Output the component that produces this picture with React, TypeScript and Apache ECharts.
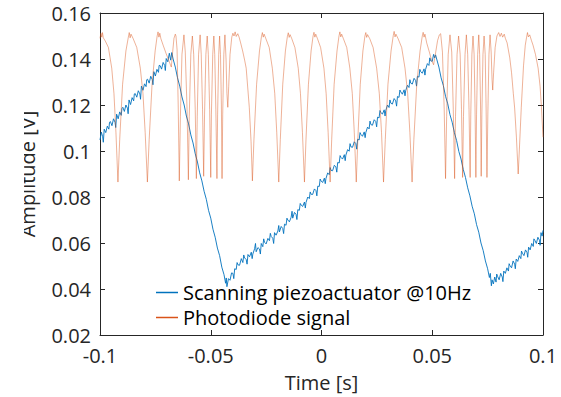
import React, { useEffect, useRef } from "react";
import * as echarts from "echarts";

// ---------- Data (time [s], amplitude [V]) ----------
const piezoRise1: number[][] = [
  [-0.1, 0.1048], [-0.0994, 0.1082], [-0.0988, 0.1062], [-0.0985, 0.1038], [-0.0981, 0.1095], [-0.0974, 0.108],
  [-0.0967, 0.1108], [-0.096, 0.1095], [-0.0957, 0.1125], [-0.0953, 0.1128], [-0.0946, 0.111], [-0.0939, 0.114],
  [-0.0932, 0.1125], [-0.0929, 0.1102], [-0.0925, 0.116], [-0.0918, 0.114], [-0.0911, 0.117], [-0.0904, 0.1155],
  [-0.0901, 0.1185], [-0.0897, 0.119], [-0.089, 0.1172], [-0.0883, 0.12], [-0.0876, 0.1186], [-0.0873, 0.1162],
  [-0.0869, 0.1222], [-0.0862, 0.1202], [-0.0855, 0.1232], [-0.0848, 0.1218], [-0.0845, 0.1248], [-0.0841, 0.125],
  [-0.0834, 0.1234], [-0.0827, 0.1262], [-0.082, 0.1248], [-0.0817, 0.1225], [-0.0813, 0.1282], [-0.0806, 0.1264],
  [-0.0799, 0.1292], [-0.0792, 0.128], [-0.0789, 0.131], [-0.0785, 0.1312], [-0.0778, 0.1295], [-0.0771, 0.1325],
  [-0.0764, 0.131], [-0.0761, 0.1288], [-0.0757, 0.1345], [-0.075, 0.1326], [-0.0743, 0.1355], [-0.0736, 0.1342],
  [-0.0733, 0.1372], [-0.0729, 0.1372], [-0.0722, 0.1356], [-0.0715, 0.1385], [-0.0708, 0.1372], [-0.0705, 0.135],
  [-0.0701, 0.1402], [-0.0694, 0.1388], [-0.0687, 0.1425], [-0.0681, 0.1395], [-0.0676, 0.1428],
];
const piezoFall1: number[][] = [
  [-0.067, 0.14], [-0.066, 0.1365], [-0.065, 0.1318], [-0.064, 0.1282], [-0.063, 0.1235],
  [-0.062, 0.12], [-0.061, 0.1152], [-0.06, 0.1118], [-0.059, 0.107], [-0.058, 0.1035],
  [-0.057, 0.0988], [-0.056, 0.0952], [-0.055, 0.0905], [-0.054, 0.087], [-0.053, 0.0825],
  [-0.052, 0.079], [-0.051, 0.0742], [-0.05, 0.0708], [-0.049, 0.066], [-0.048, 0.0625],
  [-0.047, 0.0578], [-0.046, 0.0545], [-0.045, 0.0495], [-0.044, 0.0462], [-0.0433, 0.0425],
  [-0.043, 0.0448], [-0.0427, 0.041],
];
const piezoRise2: number[][] = [
  [-0.042, 0.0445], [-0.0413, 0.0438], [-0.0406, 0.047], [-0.04, 0.0468], [-0.0396, 0.0445], [-0.0392, 0.0488],
  [-0.0385, 0.0485], [-0.0381, 0.0515], [-0.0377, 0.0505], [-0.037, 0.0503], [-0.0362, 0.0532],
  [-0.0355, 0.0515], [-0.0351, 0.0548], [-0.0347, 0.0535], [-0.034, 0.0528], [-0.0336, 0.0508], [-0.0332, 0.055],
  [-0.0325, 0.054], [-0.0317, 0.056], [-0.0313, 0.0532], [-0.031, 0.0552], [-0.0302, 0.0575], [-0.0298, 0.0598],
  [-0.0295, 0.0562], [-0.0287, 0.058], [-0.028, 0.0574], [-0.0276, 0.0552], [-0.0272, 0.0598],
  [-0.0265, 0.0584], [-0.0261, 0.0618], [-0.0257, 0.0603], [-0.025, 0.0596], [-0.0242, 0.062],
  [-0.0235, 0.061], [-0.0231, 0.0642], [-0.0227, 0.0628], [-0.022, 0.0621], [-0.0216, 0.0598], [-0.0212, 0.0645],
  [-0.0205, 0.0634], [-0.0197, 0.0652], [-0.0193, 0.0676], [-0.019, 0.0648], [-0.0182, 0.0672],
  [-0.0175, 0.0663], [-0.0171, 0.0641], [-0.0167, 0.0682], [-0.016, 0.0677], [-0.0156, 0.0708], [-0.0152, 0.07],
  [-0.0145, 0.0692], [-0.0137, 0.0712], [-0.0133, 0.0738], [-0.013, 0.0708], [-0.0122, 0.0733],
  [-0.0115, 0.0725], [-0.0111, 0.0702], [-0.0107, 0.0745], [-0.01, 0.0742], [-0.0096, 0.0772], [-0.0092, 0.0765],
  [-0.0085, 0.0759], [-0.0077, 0.0778], [-0.0073, 0.0752], [-0.007, 0.0776], [-0.0062, 0.08],
  [-0.0055, 0.0793], [-0.0051, 0.0822], [-0.0047, 0.0812], [-0.004, 0.0811], [-0.0032, 0.0835],
  [-0.0025, 0.0828], [-0.0021, 0.0805], [-0.0017, 0.0847], [-0.001, 0.0846], [-0.0006, 0.0878], [-0.0002, 0.087],
  [0.0005, 0.0863], [0.0013, 0.0882], [0.0017, 0.0858], [0.002, 0.088], [0.0028, 0.0905],
  [0.0035, 0.0897], [0.0039, 0.0928], [0.0043, 0.0916], [0.005, 0.0914], [0.0058, 0.0938],
  [0.0065, 0.0931], [0.0069, 0.0908], [0.0073, 0.095], [0.008, 0.0948], [0.0084, 0.098], [0.0088, 0.0972],
  [0.0095, 0.0965], [0.0103, 0.0984], [0.0107, 0.0958], [0.011, 0.0982], [0.0118, 0.1006],
  [0.0125, 0.0999], [0.0129, 0.1032], [0.0133, 0.1018], [0.014, 0.1016], [0.0148, 0.104],
  [0.0155, 0.1032], [0.0159, 0.1008], [0.0163, 0.1051], [0.017, 0.1048], [0.0174, 0.108], [0.0178, 0.1072],
  [0.0185, 0.1064], [0.0193, 0.1083], [0.0197, 0.1058], [0.02, 0.108], [0.0208, 0.1104],
  [0.0215, 0.1096], [0.0219, 0.113], [0.0223, 0.1115], [0.023, 0.1112], [0.0238, 0.1136],
  [0.0245, 0.1128], [0.0249, 0.1105], [0.0253, 0.1147], [0.026, 0.1144], [0.0264, 0.1176], [0.0268, 0.1168],
  [0.0275, 0.116], [0.0283, 0.1179], [0.0287, 0.1152], [0.029, 0.1176], [0.0298, 0.12],
  [0.0305, 0.1189], [0.0309, 0.1222], [0.0313, 0.1208], [0.032, 0.1204], [0.0328, 0.1228],
  [0.0335, 0.1218], [0.0339, 0.1195], [0.0343, 0.1237], [0.035, 0.1233], [0.0354, 0.1265], [0.0358, 0.1257],
  [0.0365, 0.1247], [0.0373, 0.1266], [0.0377, 0.124], [0.038, 0.1262], [0.0388, 0.1286],
  [0.0395, 0.1276], [0.0399, 0.131], [0.0403, 0.1295], [0.041, 0.1291], [0.0418, 0.1316],
  [0.0425, 0.1306], [0.0429, 0.1282], [0.0433, 0.1325], [0.044, 0.1321], [0.0444, 0.1355], [0.0448, 0.1345],
  [0.0455, 0.1338], [0.0463, 0.1357], [0.0467, 0.133], [0.047, 0.1355], [0.0478, 0.138],
  [0.0485, 0.1372], [0.0489, 0.1405], [0.0493, 0.1392], [0.05, 0.139], [0.0506, 0.142],
  [0.0511, 0.1405], [0.0515, 0.1418],
];
const piezoFall2: number[][] = [
  [0.052, 0.14], [0.053, 0.1365], [0.054, 0.1318], [0.055, 0.1285], [0.056, 0.1238],
  [0.057, 0.1205], [0.058, 0.1158], [0.059, 0.1125], [0.06, 0.108], [0.061, 0.1045],
  [0.062, 0.0998], [0.063, 0.0965], [0.064, 0.092], [0.065, 0.0885], [0.066, 0.084],
  [0.067, 0.0805], [0.068, 0.076], [0.069, 0.0727], [0.07, 0.068], [0.071, 0.0647],
  [0.072, 0.06], [0.073, 0.0567], [0.074, 0.0522], [0.075, 0.0488], [0.0758, 0.045],
  [0.0762, 0.0468], [0.0767, 0.0414],
];
const piezoRise3: number[][] = [
  [0.077, 0.044], [0.0776, 0.0422], [0.0782, 0.0452], [0.0788, 0.043], [0.0791, 0.0465], [0.0795, 0.0455],
  [0.0802, 0.044], [0.0809, 0.0468], [0.0816, 0.0452], [0.0819, 0.0432], [0.0823, 0.0478], [0.083, 0.0468],
  [0.0837, 0.0492], [0.0844, 0.0478], [0.0847, 0.051], [0.0851, 0.0502], [0.0858, 0.0492], [0.0865, 0.0522],
  [0.0872, 0.0508], [0.0875, 0.0488], [0.0879, 0.053], [0.0886, 0.052], [0.0893, 0.0545], [0.09, 0.0532],
  [0.0903, 0.0565], [0.0907, 0.0556], [0.0914, 0.0545], [0.0921, 0.057], [0.0928, 0.0558], [0.0931, 0.0538],
  [0.0935, 0.0582], [0.0942, 0.057], [0.0949, 0.0598], [0.0956, 0.0585], [0.0959, 0.0618], [0.0963, 0.0612],
  [0.097, 0.0598], [0.0977, 0.0625], [0.0984, 0.0612], [0.0987, 0.059], [0.0991, 0.0645], [0.0996, 0.063],
  [0.1, 0.0655],
];

const diodeSlowLeft: number[][] = [
  [-0.1, 0.149], [-0.0996, 0.1512], [-0.0992, 0.1495], [-0.0989, 0.1515], [-0.0985, 0.1492],
  [-0.0976, 0.1478], [-0.0962, 0.145], [-0.0947, 0.136], [-0.0937, 0.125], [-0.0928, 0.108],
  [-0.0919, 0.0865], [-0.0911, 0.105], [-0.0898, 0.129], [-0.0883, 0.1435], [-0.0872, 0.1495],
  [-0.0868, 0.1515], [-0.0864, 0.1492], [-0.086, 0.1508], [-0.085, 0.1488], [-0.0834, 0.145],
  [-0.0818, 0.136], [-0.0806, 0.125], [-0.0796, 0.108], [-0.0786, 0.0865], [-0.0778, 0.105],
  [-0.0765, 0.129], [-0.0751, 0.1435], [-0.0742, 0.15], [-0.0738, 0.1518], [-0.0734, 0.1495],
  [-0.073, 0.1512], [-0.0725, 0.1488], [-0.0715, 0.146], [-0.0702, 0.1425], [-0.069, 0.1395],
  [-0.0682, 0.1375], [-0.0678, 0.1365], [-0.0672, 0.143], [-0.0666, 0.149], [-0.066, 0.1508],
  [-0.0657, 0.15],
];
const diodeFastLeft: number[][] = [
  [-0.0652, 0.144], [-0.0647, 0.12], [-0.0642, 0.087], [-0.0637, 0.115], [-0.063, 0.142],
  [-0.0621, 0.1505], [-0.0615, 0.143], [-0.0607, 0.118], [-0.0601, 0.0875], [-0.0597, 0.115],
  [-0.059, 0.142], [-0.0583, 0.15], [-0.0577, 0.142], [-0.057, 0.118], [-0.0565, 0.088],
  [-0.0561, 0.115], [-0.0555, 0.142], [-0.0548, 0.1505], [-0.0543, 0.142], [-0.0537, 0.118],
  [-0.0532, 0.089], [-0.0528, 0.116], [-0.0522, 0.142], [-0.0516, 0.15], [-0.0511, 0.142],
  [-0.0505, 0.118], [-0.05, 0.0885], [-0.0497, 0.116], [-0.0491, 0.142], [-0.0486, 0.15],
  [-0.0482, 0.142], [-0.0477, 0.118], [-0.0472, 0.088], [-0.0469, 0.116], [-0.0464, 0.142],
  [-0.046, 0.15], [-0.0456, 0.142], [-0.0452, 0.12], [-0.0449, 0.088], [-0.0446, 0.116],
  [-0.0441, 0.142], [-0.0436, 0.1505], [-0.0431, 0.14], [-0.0427, 0.125], [-0.0423, 0.119],
  [-0.0419, 0.128], [-0.0413, 0.142], [-0.0405, 0.1495], [-0.04, 0.1512], [-0.0395, 0.15],
  [-0.039, 0.1518], [-0.0385, 0.1498], [-0.0378, 0.151], [-0.0372, 0.1495],
];
const diodeSlowMiddle: number[][] = [
  [-0.0365, 0.147], [-0.0356, 0.1435], [-0.0347, 0.1395], [-0.034, 0.136], [-0.0326, 0.119],
  [-0.0318, 0.104], [-0.0312, 0.087], [-0.0305, 0.105], [-0.0293, 0.129], [-0.028, 0.1435],
  [-0.0271, 0.1498], [-0.0267, 0.1515], [-0.0263, 0.1495], [-0.0259, 0.1508], [-0.0251, 0.1488],
  [-0.0236, 0.145], [-0.0222, 0.136], [-0.0211, 0.125], [-0.0202, 0.108], [-0.0193, 0.0865],
  [-0.0186, 0.105], [-0.0175, 0.129], [-0.0163, 0.1435], [-0.0154, 0.1498], [-0.015, 0.1514],
  [-0.0146, 0.1494], [-0.0142, 0.1506], [-0.0134, 0.1488], [-0.012, 0.145], [-0.0105, 0.136],
  [-0.0095, 0.125], [-0.0086, 0.108], [-0.0077, 0.0865], [-0.007, 0.105], [-0.0059, 0.129],
  [-0.0047, 0.1435], [-0.0038, 0.15], [-0.0034, 0.1516], [-0.003, 0.1495], [-0.0026, 0.1508],
  [-0.0018, 0.1488], [-0.0004, 0.145], [0.0011, 0.136], [0.0021, 0.125], [0.003, 0.108],
  [0.0039, 0.0865], [0.0046, 0.105], [0.0057, 0.129], [0.007, 0.1435], [0.0079, 0.15],
  [0.0083, 0.1518], [0.0087, 0.1496], [0.0091, 0.1508], [0.0099, 0.1488], [0.0114, 0.145],
  [0.0128, 0.136], [0.0139, 0.125], [0.0148, 0.108], [0.0157, 0.0865], [0.0164, 0.105],
  [0.0175, 0.129], [0.0187, 0.1435], [0.0196, 0.15], [0.02, 0.1515], [0.0204, 0.1494],
  [0.0208, 0.1506], [0.0218, 0.1488], [0.0233, 0.145], [0.0249, 0.136], [0.0261, 0.125],
  [0.0271, 0.108], [0.028, 0.0865], [0.0288, 0.105], [0.03, 0.129], [0.0314, 0.1435],
  [0.0324, 0.1502], [0.0328, 0.152], [0.0332, 0.1496], [0.0336, 0.1508], [0.0346, 0.1488],
  [0.0362, 0.145], [0.0377, 0.136], [0.0389, 0.125], [0.0399, 0.108], [0.0409, 0.0865],
  [0.0417, 0.105], [0.043, 0.129], [0.0445, 0.1435], [0.0455, 0.15], [0.0459, 0.1516],
  [0.0463, 0.1495], [0.0467, 0.1508], [0.0475, 0.147], [0.0487, 0.143], [0.0497, 0.1395],
  [0.0506, 0.1375], [0.0514, 0.142], [0.0524, 0.148], [0.0532, 0.1505], [0.0538, 0.151],
];
const diodeFastRight: number[][] = [
  [0.0546, 0.143], [0.0554, 0.118], [0.056, 0.088], [0.0565, 0.115], [0.0572, 0.142],
  [0.058, 0.1505], [0.0588, 0.143], [0.0595, 0.118], [0.0601, 0.088], [0.0605, 0.115],
  [0.0612, 0.142], [0.0619, 0.15], [0.0626, 0.142], [0.0632, 0.118], [0.0637, 0.0885],
  [0.0641, 0.115], [0.0648, 0.142], [0.0654, 0.1505], [0.066, 0.142], [0.0666, 0.118],
  [0.0671, 0.0885], [0.0674, 0.116], [0.0679, 0.142], [0.0684, 0.15], [0.0689, 0.142],
  [0.0693, 0.12], [0.0697, 0.0885], [0.07, 0.116], [0.0705, 0.142], [0.071, 0.1505],
  [0.0714, 0.142], [0.0718, 0.12], [0.0721, 0.089], [0.0724, 0.116], [0.0729, 0.142],
  [0.0734, 0.15], [0.0739, 0.142], [0.0743, 0.12], [0.0747, 0.0885], [0.0751, 0.116],
  [0.0756, 0.142], [0.0761, 0.1505], [0.0766, 0.143], [0.077, 0.131], [0.0773, 0.1265],
  [0.0777, 0.134], [0.0784, 0.145], [0.0792, 0.15], [0.08, 0.1515], [0.0806, 0.1498],
  [0.0812, 0.1512], [0.0818, 0.1495], [0.0825, 0.1508], [0.083, 0.149],
];
const diodeSlowRight: number[][] = [
  [0.0838, 0.147], [0.085, 0.1405], [0.0858, 0.134], [0.0866, 0.125], [0.0872, 0.1187],
  [0.088, 0.106], [0.0888, 0.09], [0.0893, 0.1], [0.0902, 0.119], [0.0912, 0.137],
  [0.092, 0.146], [0.0926, 0.1495], [0.093, 0.1515], [0.0934, 0.1496], [0.094, 0.1505],
  [0.0948, 0.148], [0.0955, 0.146], [0.0966, 0.142], [0.0978, 0.136], [0.0987, 0.128],
  [0.0993, 0.119], [0.1, 0.106],
];

const seriesNames = ["Scanning piezoactuator @10Hz", "Photodiode signal"];
const seriesColors = ["#0072BD", "#D95319"];

const piezoData = [...piezoRise1, ...piezoFall1, ...piezoRise2, ...piezoFall2, ...piezoRise3];
const diodeData = [
  ...diodeSlowLeft, ...diodeFastLeft, ...diodeSlowMiddle, ...diodeFastRight, ...diodeSlowRight,
];

const FONT = "Open Sans";
const AXIS_COLOR = "#262626";

const fmt = (v: number) => String(parseFloat(v.toFixed(3)));

export default function App() {
  const ref = useRef<HTMLDivElement>(null);
  useEffect(() => {
    if (!ref.current) return;
    const chart = echarts.init(ref.current, undefined, { renderer: "svg" });
    const axisLine = { show: true, onZero: false, lineStyle: { color: AXIS_COLOR, width: 1 } };
    const tick = { show: true, inside: true, length: 5, lineStyle: { color: AXIS_COLOR, width: 1 } };
    const label = { color: AXIS_COLOR, fontFamily: FONT, fontSize: 20 };
    chart.setOption({
      animation: false,
      backgroundColor: "#ffffff",
      grid: { left: 100, right: 18, top: 13, bottom: 62, containLabel: false },
      legend: {
        orient: "vertical",
        left: 156,
        top: 280,
        itemWidth: 22,
        itemHeight: 1.5,
        itemGap: 0,
        padding: 0,
        textStyle: { color: "#000", fontFamily: FONT, fontSize: 20, lineHeight: 25 },
        data: seriesNames.map((n) => ({ name: n, icon: "rect" })),
      },
      xAxis: [
        {
          type: "value", min: -0.1, max: 0.1, interval: 0.05, position: "bottom",
          name: "Time [s]", nameLocation: "middle", nameGap: 37,
          nameTextStyle: { color: AXIS_COLOR, fontFamily: FONT, fontSize: 20 },
          axisLine, axisTick: tick, splitLine: { show: false },
          axisLabel: { ...label, margin: 10, formatter: fmt },
        },
        {
          type: "value", min: -0.1, max: 0.1, interval: 0.05, position: "top",
          axisLine, axisTick: tick, splitLine: { show: false }, axisLabel: { show: false },
        },
      ],
      yAxis: [
        {
          type: "value", min: 0.02, max: 0.16, interval: 0.02, position: "left",
          name: "Amplitude [V]", nameLocation: "middle", nameGap: 63,
          nameTextStyle: { color: AXIS_COLOR, fontFamily: FONT, fontSize: 20 },
          axisLine, axisTick: tick, splitLine: { show: false },
          axisLabel: { ...label, margin: 9, formatter: fmt },
        },
        {
          type: "value", min: 0.02, max: 0.16, interval: 0.02, position: "right",
          axisLine, axisTick: tick, splitLine: { show: false }, axisLabel: { show: false },
        },
      ],
      graphic: [
        { type: "rect", left: 0, top: 0, z: 100, shape: { width: 24, height: 397 }, style: { fill: "#ffffff" } },
      ],
      series: [
        {
          name: seriesNames[0], type: "line", data: piezoData, showSymbol: false,
          color: seriesColors[0], lineStyle: { color: seriesColors[0], width: 0.9 },
        },
        {
          name: seriesNames[1], type: "line", data: diodeData, showSymbol: false,
          color: seriesColors[1], lineStyle: { color: seriesColors[1], width: 0.6, opacity: 0.75 },
        },
      ],
    });
    return () => chart.dispose();
  }, []);
  return (
    <div
      ref={ref}
      style={{ position: "fixed", left: 0, top: 0, width: 561, height: 397, background: "#fff" }}
    />
  );
}
